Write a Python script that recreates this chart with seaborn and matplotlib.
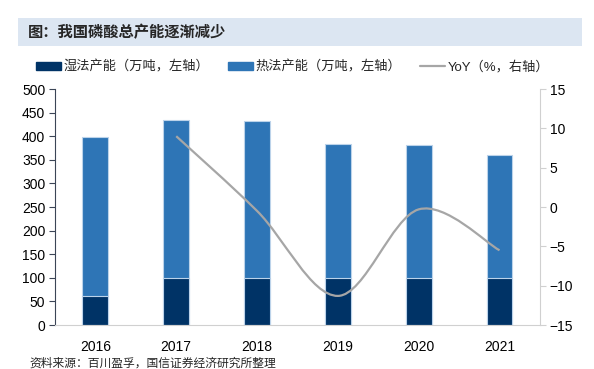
import numpy as np
import pandas as pd
import matplotlib
matplotlib.use("Agg")
import matplotlib.pyplot as plt
import matplotlib.patches as mpatches
from matplotlib.lines import Line2D
from matplotlib.path import Path
import seaborn as sns

# data
years = ["2016", "2017", "2018", "2019", "2020", "2021"]
wet = [62, 100, 100, 100, 100, 100]        # 湿法产能
thermal = [336, 334, 332, 283, 282, 261]   # 热法产能
yoy = [np.nan, 9.0, -0.5, -11.3, -0.3, -5.5]

dark = "#003366"
mid = "#2e75b6"
grey = "#a6a6a6"

sns.set_theme(style="white")
plt.rcParams["font.family"] = ["Liberation Sans", "Noto Sans CJK SC", "DejaVu Sans"]

df = pd.DataFrame({"year": years, "wet": wet, "thermal": thermal})
df["total"] = df["wet"] + df["thermal"]

fig = plt.figure(figsize=(5.94, 3.69), dpi=100)
ax = fig.add_axes([0.0926, 0.1192, 0.8164, 0.6396])

sns.barplot(data=df, x="year", y="total", color=mid, width=0.32, saturation=1,
            edgecolor="#bcd3ea", linewidth=0.8, ax=ax)
sns.barplot(data=df, x="year", y="wet", color=dark, width=0.32, saturation=1,
            edgecolor="#bcd3ea", linewidth=0.8, ax=ax)

ax.set_ylim(0, 500)
ax.set_yticks(range(0, 501, 50))
ax.set_xlim(-0.5, 5.5)
ax.set_xlabel("")
ax.set_ylabel("")
ax.tick_params(axis="y", which="both", left=True, length=4, width=0.8, color="#3b4556",
               labelsize=10, pad=3, labelcolor="black")
ax.tick_params(axis="x", bottom=False, labelsize=10, pad=5, labelcolor="black")
for s in ["top", "right"]:
    ax.spines[s].set_visible(False)
ax.spines["left"].set_color("#3b4556")
ax.spines["left"].set_linewidth(0.8)
ax.spines["bottom"].set_color("#d0d0d0")
ax.spines["bottom"].set_linewidth(0.8)

# right axis with smoothed YoY line (Excel-style bezier smoothing)
ax2 = ax.twinx()
ax2.set_ylim(-15, 15)
ax2.set_yticks(range(-15, 16, 5))
ax2.set_xlim(-0.5, 5.5)
pts = [(i, v) for i, v in enumerate(yoy) if not np.isnan(v)]
P = np.array(pts, dtype=float)
verts = [P[0]]
codes = [Path.MOVETO]
n = len(P)
for i in range(n - 1):
    p0 = P[i - 1] if i > 0 else P[i]
    p3 = P[i + 2] if i + 2 < n else P[i + 1]
    c1 = P[i] + (P[i + 1] - p0) / 6
    c2 = P[i + 1] - (p3 - P[i]) / 6
    verts += [c1, c2, P[i + 1]]
    codes += [Path.CURVE4] * 3
ax2.add_patch(mpatches.PathPatch(Path(verts, codes), facecolor="none",
                                 edgecolor=grey, linewidth=1.6, zorder=5))
ax2.tick_params(axis="y", right=True, length=4, width=0.8, color="#d0d0d0",
                labelsize=10, pad=3, labelcolor="black")
for s in ["top", "left", "bottom"]:
    ax2.spines[s].set_visible(False)
ax2.spines["right"].set_color("#d0d0d0")
ax2.spines["right"].set_linewidth(0.8)
ax2.grid(False)

# title band
fig.patches.append(mpatches.Rectangle((0.0303, 0.8753), 0.9495, 0.0759,
                                      transform=fig.transFigure, facecolor="#dce6f2",
                                      edgecolor="none", zorder=0))
fig.text(0.047, 0.913, "图：我国磷酸总产能逐渐减少", fontsize=11, fontweight="bold",
         va="center", ha="left", family=["Noto Sans CJK SC"])

handles = [
    mpatches.Patch(color=dark, label="湿法产能（万吨，左轴）"),
    mpatches.Patch(color=mid, label="热法产能（万吨，左轴）"),
    Line2D([0], [0], color=grey, linewidth=1.6, label="YoY（%，右轴）"),
]
fig.legend(handles=handles, loc="center", bbox_to_anchor=(0.493, 0.818), ncol=3,
           frameon=False, fontsize=9.5, handlelength=1.9, handleheight=0.6,
           handletextpad=0.2, columnspacing=1.4)

fig.text(0.05, 0.017, "资料来源：百川盈孚，国信证券经济研究所整理", fontsize=8.5,
         va="center", ha="left", family=["Noto Sans CJK SC"])

fig.savefig("out.png", dpi=100)
